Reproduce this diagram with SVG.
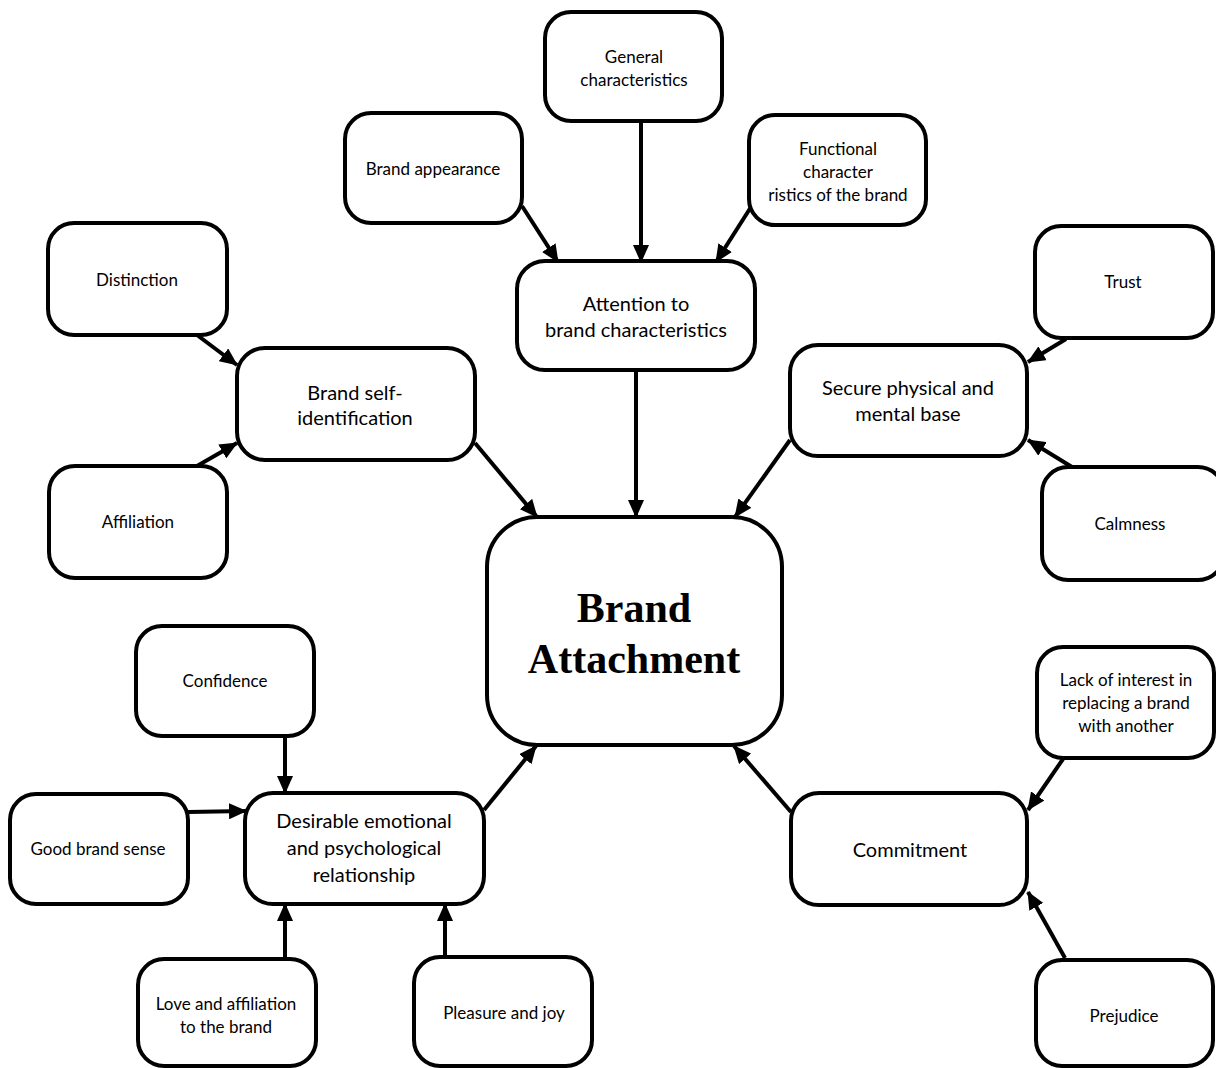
<svg xmlns="http://www.w3.org/2000/svg" width="1216" height="1068" viewBox="0 0 1216 1068">
  <style>
    .box { fill: #ffffff; stroke: #000000; stroke-width: 4; }
    .sm { font-family: Lato, "Liberation Sans", sans-serif; font-size: 17px; fill: #000; text-anchor: middle; }
    .lg { font-family: Lato, "Liberation Sans", sans-serif; font-size: 20px; fill: #000; text-anchor: middle; }
    .core { font-family: "Liberation Serif", "Times New Roman", serif; font-size: 42px; font-weight: bold; fill: #000; text-anchor: middle; }
    .conn line { stroke: #000000; stroke-width: 4; marker-end: url(#head); }
  </style>
  <defs>
    <marker id="head" markerUnits="userSpaceOnUse" markerWidth="18" markerHeight="16" refX="17" refY="8" orient="auto">
      <path d="M0,0 L18,8 L0,16 z" fill="#000"/>
    </marker>
  </defs>
  <rect width="1216" height="1068" fill="#ffffff"/>

  <!-- connectors -->
  <g id="connectors" class="conn">
    <line x1="522" y1="206" x2="558" y2="262"/>
    <line x1="641" y1="121" x2="641" y2="262"/>
    <line x1="751" y1="207" x2="716" y2="262"/>
    <line x1="197" y1="335" x2="237" y2="365"/>
    <line x1="197" y1="466" x2="237" y2="443"/>
    <line x1="475" y1="443" x2="537" y2="517"/>
    <line x1="636" y1="370" x2="636" y2="517"/>
    <line x1="790" y1="440" x2="735" y2="517"/>
    <line x1="1066" y1="339" x2="1028" y2="362"/>
    <line x1="1072" y1="467" x2="1028" y2="440"/>
    <line x1="285" y1="736" x2="285" y2="793"/>
    <line x1="188" y1="812" x2="246" y2="811"/>
    <line x1="285" y1="959" x2="285" y2="904"/>
    <line x1="445" y1="957" x2="445" y2="904"/>
    <line x1="484" y1="810" x2="536" y2="746"/>
    <line x1="791" y1="812" x2="734" y2="746"/>
    <line x1="1063" y1="759" x2="1028" y2="810"/>
    <line x1="1065" y1="958" x2="1028" y2="892"/>
  </g>

  <!-- top row -->
  <g id="general">
    <rect class="box" x="545" y="12" width="177" height="109" rx="26"/>
    <text class="sm" x="634" y="63">General</text>
    <text class="sm" x="634" y="86">characteristics</text>
  </g>
  <g id="appearance">
    <rect class="box" x="345" y="113" width="177" height="110" rx="26"/>
    <text class="sm" x="433" y="175">Brand appearance</text>
  </g>
  <g id="functional">
    <rect class="box" x="749" y="115" width="177" height="110" rx="26"/>
    <text class="sm" x="838" y="155">Functional</text>
    <text class="sm" x="838" y="178">character</text>
    <text class="sm" x="838" y="201">ristics of the brand</text>
  </g>
  <g id="attention">
    <rect class="box" x="517" y="261" width="238" height="109" rx="28"/>
    <text class="lg" x="636" y="311">Attention to</text>
    <text class="lg" x="636" y="337">brand characteristics</text>
  </g>

  <!-- left upper -->
  <g id="distinction">
    <rect class="box" x="48" y="223" width="179" height="112" rx="26"/>
    <text class="sm" x="137" y="286">Distinction</text>
  </g>
  <g id="self-identification">
    <rect class="box" x="237" y="348" width="238" height="112" rx="28"/>
    <text class="lg" x="355" y="400">Brand self-</text>
    <text class="lg" x="355" y="425">identification</text>
  </g>
  <g id="affiliation">
    <rect class="box" x="49" y="466" width="178" height="112" rx="26"/>
    <text class="sm" x="138" y="528">Affiliation</text>
  </g>

  <!-- right upper -->
  <g id="trust">
    <rect class="box" x="1035" y="226" width="178" height="112" rx="26"/>
    <text class="sm" x="1123" y="288">Trust</text>
  </g>
  <g id="secure-base">
    <rect class="box" x="790" y="345" width="237" height="111" rx="28"/>
    <text class="lg" x="908" y="395">Secure physical and</text>
    <text class="lg" x="908" y="421">mental base</text>
  </g>
  <g id="calmness">
    <rect class="box" x="1042" y="467" width="182" height="113" rx="26"/>
    <text class="sm" x="1130" y="530">Calmness</text>
  </g>

  <!-- centre -->
  <g id="brand-attachment">
    <rect class="box" x="487" y="517" width="295" height="228" rx="50"/>
    <text class="core" x="634" y="622">Brand</text>
    <text class="core" x="634" y="673">Attachment</text>
  </g>

  <!-- left lower -->
  <g id="confidence">
    <rect class="box" x="136" y="626" width="178" height="110" rx="26"/>
    <text class="sm" x="225" y="687">Confidence</text>
  </g>
  <g id="good-sense">
    <rect class="box" x="10" y="794" width="178" height="110" rx="26"/>
    <text class="sm" x="98" y="855">Good brand sense</text>
  </g>
  <g id="relationship">
    <rect class="box" x="245" y="793" width="239" height="111" rx="28"/>
    <text class="lg" x="364" y="828">Desirable emotional</text>
    <text class="lg" x="364" y="855">and psychological</text>
    <text class="lg" x="364" y="882">relationship</text>
  </g>
  <g id="love">
    <rect class="box" x="138" y="959" width="178" height="107" rx="26"/>
    <text class="sm" x="226" y="1010">Love and affiliation</text>
    <text class="sm" x="226" y="1033">to the brand</text>
  </g>
  <g id="pleasure">
    <rect class="box" x="414" y="957" width="178" height="109" rx="26"/>
    <text class="sm" x="504" y="1019">Pleasure and joy</text>
  </g>

  <!-- right lower -->
  <g id="lack-of-interest">
    <rect class="box" x="1037" y="647" width="177" height="111" rx="26"/>
    <text class="sm" x="1126" y="686">Lack of interest in</text>
    <text class="sm" x="1126" y="709">replacing a brand</text>
    <text class="sm" x="1126" y="732">with another</text>
  </g>
  <g id="commitment">
    <rect class="box" x="791" y="793" width="236" height="112" rx="28"/>
    <text class="lg" x="910" y="857">Commitment</text>
  </g>
  <g id="prejudice">
    <rect class="box" x="1036" y="960" width="177" height="106" rx="26"/>
    <text class="sm" x="1124" y="1022">Prejudice</text>
  </g>
</svg>
